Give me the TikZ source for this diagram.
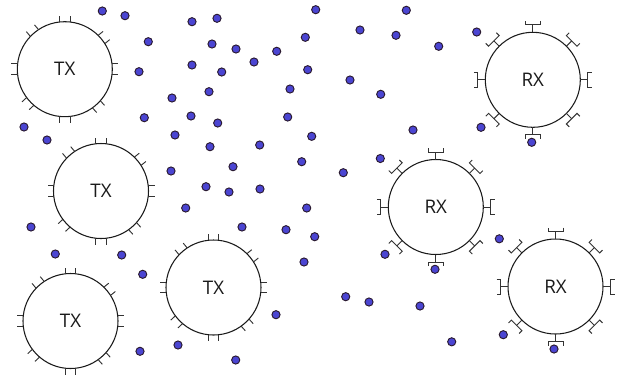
\documentclass[tikz,border=0pt]{standalone}
\usepackage{fontspec}
\setmainfont{Open Sans}
\usepackage{xcolor}
\definecolor{vdarkgray}{HTML}{1a1a1a}
\definecolor{vantgray}{HTML}{333333}
\definecolor{vdotblue}{HTML}{4B45D2}
\definecolor{vdotrim}{HTML}{2a1a30}

\tikzset{
  station/.style={draw=vdarkgray, line width=0.9pt, circle, minimum size=2.85cm, inner sep=0pt, text=vdarkgray, font=\fontsize{16}{18}\selectfont},
  antenna/.style={draw=vantgray, line width=0.8pt},
  user/.style={draw=vdotrim, fill=vdotblue, line width=0.8pt, circle, minimum size=0.245cm, inner sep=0pt}
}

\begin{document}
\begin{tikzpicture}[x=0.03cm, y=0.03cm]
	\useasboundingbox (0,0) rectangle (629,-384);
	% transmitters
	\node[station] (tx1) at (64.8,-69.2) {TX};
	\node[station] (tx2) at (101,-191) {TX};
	\node[station] (tx3) at (213.5,-287.5) {TX};
	\node[station] (tx4) at (70.5,-321) {TX};
	% receivers
	\node[station] (rx1) at (532.8,-79.8) {RX};
	\node[station] (rx2) at (435.8,-207) {RX};
	\node[station] (rx3) at (555.5,-286.5) {RX};
	% tx antennas
	\foreach \st in {tx1,tx2,tx3,tx4}
		\foreach \a in {0,39,90,130,180,223,270,312}{
			\begin{scope}[shift={(\st.center)}, rotate=\a]
				\draw[antenna] (47.2,-5.3) -- (53.5,-5.3) (47.2,5.3) -- (53.5,5.3);
			\end{scope}
		}
	% rx antennas
	\foreach \st in {rx1,rx2,rx3}
		\foreach \a in {0,45,...,315}{
			\begin{scope}[shift={(\st.center)}, rotate=\a]
				\draw[antenna] (47.5,0) -- (55,0);
				\draw[antenna] (59,-7.5) -- (55,-7.5) -- (55,7.5) -- (59,7.5);
			\end{scope}
		}
	% users
	\foreach \x/\y [count=\i] in {102.3/11, 125/15.7, 148.3/41.7, 139/71.7, 144.3/117.7, 24/127, 47/140,
		192/21.7, 217/18.3, 212/44, 236/49, 276.7/51.3, 254/62, 192/65, 221.7/72, 209/91.7, 172/98,
		191/116, 217.7/123, 175/135, 210/146.7, 259.7/145, 233/166.7, 171/171, 206/186.7, 229/192,
		260/189, 185.7/208, 242/227, 286/229.7, 306.7/208, 314.7/236.7, 304/262, 287.7/117,
		311.7/136.3, 301.7/161.7, 290/89, 307.7/69.7, 305.3/37.3, 315.7/9.7, 360/30, 350/80,
		380.7/94.3, 396/35.3, 406.3/10.3, 438.7/46.3, 476.7/32, 413/130, 481/127.3, 531.7/142.3,
		380.3/158.5, 343.3/172.7, 385/254.3, 435/269.3, 499.3/238.8, 345.7/296.7, 369/302, 420/306,
		451.7/341.8, 503.3/334.7, 554/349, 276/314.7, 235.7/360, 178/345, 140/351.3, 31/227,
		55.3/254, 121.7/255, 142.7/274.3}
		\node[user] (ue\i) at (\x,-\y) {};
\end{tikzpicture}
\end{document}
